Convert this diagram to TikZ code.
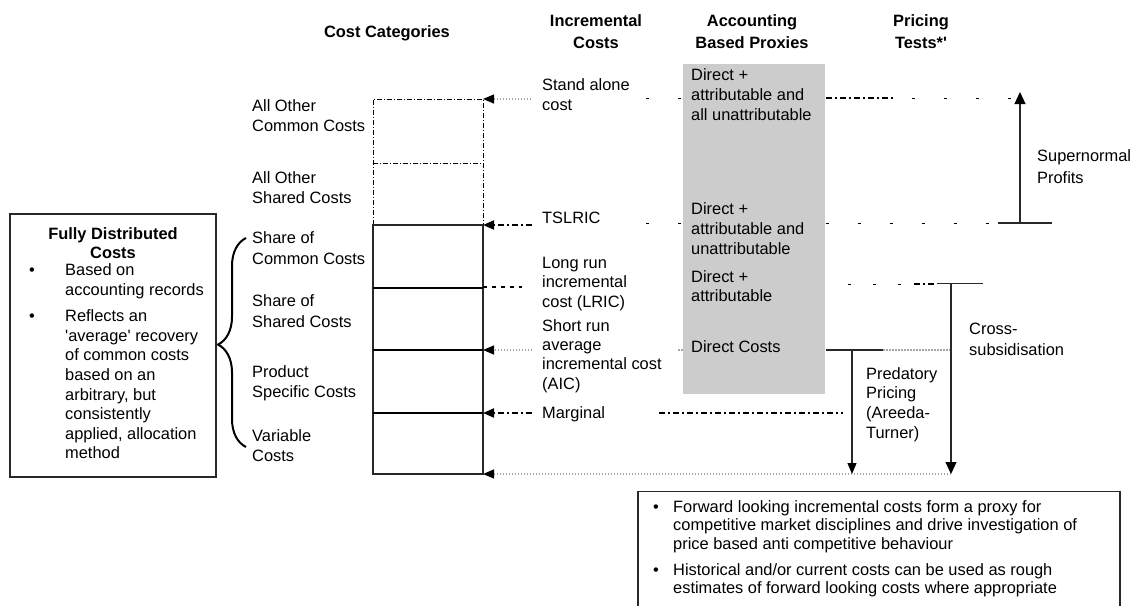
\documentclass[tikz,border=0pt]{standalone}
\usepackage{fontspec}
\setmainfont{Liberation Sans}[Ligatures=TeXOff]
\usetikzlibrary{arrows.meta,decorations.pathreplacing}

% multi-line text blocks; the optional argument is the line pitch
\newcommand{\txtl}[2][20]{{\fontsize{16.4}{#1}\selectfont\begin{tabular}[t]{@{}l@{}}#2\end{tabular}}}
\newcommand{\txtc}[2][21]{{\fontsize{16.4}{#1}\selectfont\bfseries\begin{tabular}[t]{@{}c@{}}#2\end{tabular}}}

\definecolor{proxyfill}{RGB}{204,204,204}
\definecolor{edge}{RGB}{40,40,40}

\begin{document}
\begin{tikzpicture}[x=1pt,y=-1pt,
  lbl/.style={inner sep=0pt, anchor=base west},
  ctr/.style={inner sep=0pt, anchor=base},
  ln/.style={draw=edge, line width=1.1pt},
  tip/.style={-{Triangle[length=11pt,width=9pt,color=black]}},
  bigtip/.style={-{Triangle[length=12pt,width=11pt,color=black]}},
  faint/.style={draw=black!35, line width=1.2pt, dash pattern=on 1.5pt off 1.5pt},
  sparse/.style={draw=black, line width=1pt, dash pattern=on 3pt off 29pt},
  heavy/.style={draw=black, line width=2pt, dash pattern=on 6pt off 3pt on 2pt off 3pt},
  dashdot/.style={draw=black, line width=0.9pt, dash pattern=on 5pt off 2pt on 1pt off 2pt},
  ]
\useasboundingbox (0,0) rectangle (1134,605);

% column headings
\node[ctr] (hcat) at (387,37) {\txtc{Cost Categories}};
\node[ctr] (hinc) at (596,27) {\txtc{Incremental\\Costs}};
\node[ctr] (hacc) at (752,27) {\txtc{Accounting\\Based Proxies}};
\node[ctr] (hpri) at (921,27) {\txtc{Pricing\\Tests*'}};

% shaded column of accounting proxies
\fill[proxyfill] (683,64) rectangle (825,394);

% stacked cost categories
\draw[dashdot] (373,225) -- (373,99) -- (483,99) -- (483,225);
\draw[dashdot] (373,163) -- (483,163);
\draw[ln] (373,225) rectangle (483,474);
\draw[black, line width=2pt] (373,288) -- (483,288);
\draw[black, line width=2pt] (373,350) -- (483,350);
\draw[black, line width=2pt] (373,413) -- (483,413);

\coordinate (sa) at (483,99);
\coordinate (ts) at (483,225);
\coordinate (lr) at (483,287);
\coordinate (ai) at (483,350);
\coordinate (mg) at (483,413);
\coordinate (bt) at (483,474);

\node[lbl] (c1) at (252,111) {\txtl[20.5]{All Other\\Common Costs}};
\node[lbl] (c2) at (252,183) {\txtl[20.5]{All Other\\Shared Costs}};
\node[lbl] (c3) at (252,243.5) {\txtl[20.5]{Share of\\Common Costs}};
\node[lbl] (c4) at (252,306.5) {\txtl[20.5]{Share of\\Shared Costs}};
\node[lbl] (c5) at (252,377) {\txtl[20.5]{Product\\Specific Costs}};
\node[lbl] (c6) at (252,441) {\txtl[20.5]{Variable\\Costs}};

% brace grouping the fully distributed categories
\draw[black, line width=2pt, decorate,
      decoration={brace, amplitude=28pt, aspect=0.49}] (246,447) -- (246,238);

% incremental cost labels
\node[lbl] (i1) at (542,90) {\txtl{Stand alone\\cost}};
\node[lbl] (i2) at (542,223) {\txtl{TSLRIC}};
\node[lbl] (i3) at (542,268.3) {\txtl[19.4]{Long run\\incremental\\cost (LRIC)}};
\node[lbl] (i4) at (542,331) {\txtl[19.4]{Short run\\average\\incremental cost\\(AIC)}};
\node[lbl] (i5) at (542,418) {\txtl{Marginal}};

% accounting proxy labels
\node[lbl] (a1) at (691,80.7) {\txtl{Direct +\\attributable and\\all unattributable}};
\node[lbl] (a2) at (691,214) {\txtl{Direct +\\attributable and\\unattributable}};
\node[lbl] (a3) at (691,282.3) {\txtl[19.5]{Direct +\\attributable}};
\node[lbl] (a4) at (691,352.7) {\txtl{Direct Costs}};

% arrows into the cost stack
\draw[faint, tip] (531,99) -- (sa);
\draw[heavy, tip] (532,225) -- (ts);
\draw[black, line width=1.6pt, dash pattern=on 4pt off 5pt] (lr) -- (522,287);
\draw[faint, tip] (532,350) -- (ai);
\draw[heavy, tip] (532,413) -- (mg);
\draw[faint, tip] (951,474) -- (bt);

% cost levels carried across to the pricing tests
\draw[sparse] (646,98) -- (683,98);
\draw[heavy] (826,98) -- (895,98);
\draw[sparse, dash phase=-12pt] (900,98) -- (1016,98);
\draw[sparse] (646,223.5) -- (683,223.5);
\draw[sparse] (826,223.5) -- (998,223.5);
\draw[sparse, dash pattern=on 3pt off 22pt] (848,284) -- (912,284);
\draw[heavy] (914,284) -- (937,284);
\draw[faint] (678,350) -- (683,350);
\draw[faint] (883,350) -- (951,350);
\draw[heavy] (659,413) -- (843,413);

% pricing tests
\coordinate (snb) at (1020,223);
\coordinate (snt) at (1020,92);
\draw[ln] (998,223) -- (1052,223);
\draw[ln, bigtip] (snb) -- (snt);
\node[lbl] (p1) at (1037,161.7) {\txtl[21.6]{Supernormal\\Profits}};

\coordinate (csb) at (951,284);
\coordinate (cse) at (951,474);
\draw[ln] (937,283.5) -- (983,283.5);
\draw[ln, bigtip] (csb) -- (cse);
\node[lbl] (p2) at (969,334) {\txtl[21]{Cross-\\subsidisation}};

\coordinate (ppb) at (852,350);
\coordinate (ppe) at (852,474);
\draw[ln] (826,350) -- (883,350);
\draw[ln, tip] (ppb) -- (ppe);
\node[lbl] (p3) at (866,379) {\txtl[19.8]{Predatory\\Pricing\\(Areeda-\\Turner)}};

% fully distributed costs panel
\draw[ln] (10,214) rectangle (216,477);
\node[ctr] (f0) at (113,239.5) {\txtc[18.5]{Fully Distributed\\Costs}};
\node[lbl] (fb1) at (29,275.7) {\txtl{\textbullet}};
\node[lbl] (f1) at (65,275.7) {\txtl[19.6]{Based on\\accounting records}};
\node[lbl] (fb2) at (29,321.7) {\txtl{\textbullet}};
\node[lbl] (f2) at (65,321.7) {\txtl[19.6]{Reflects an\\'average' recovery\\of common costs\\based on an\\arbitrary, but\\consistently\\applied, allocation\\method}};

% notes panel
\draw[ln] (638,606) -- (638,491.5) -- (1120,491.5) -- (1120,606);
\node[lbl] (nb1) at (653,512) {\txtl{\textbullet}};
\node[lbl] (n1) at (673,512) {\txtl[18.8]{Forward looking incremental costs form a proxy for\\competitive market disciplines and drive investigation of\\price based anti competitive behaviour}};
\node[lbl] (nb2) at (653,575) {\txtl{\textbullet}};
\node[lbl] (n2) at (673,575) {\txtl[18.8]{Historical and/or current costs can be used as rough\\estimates of forward looking costs where appropriate}};
\end{tikzpicture}
\end{document}
